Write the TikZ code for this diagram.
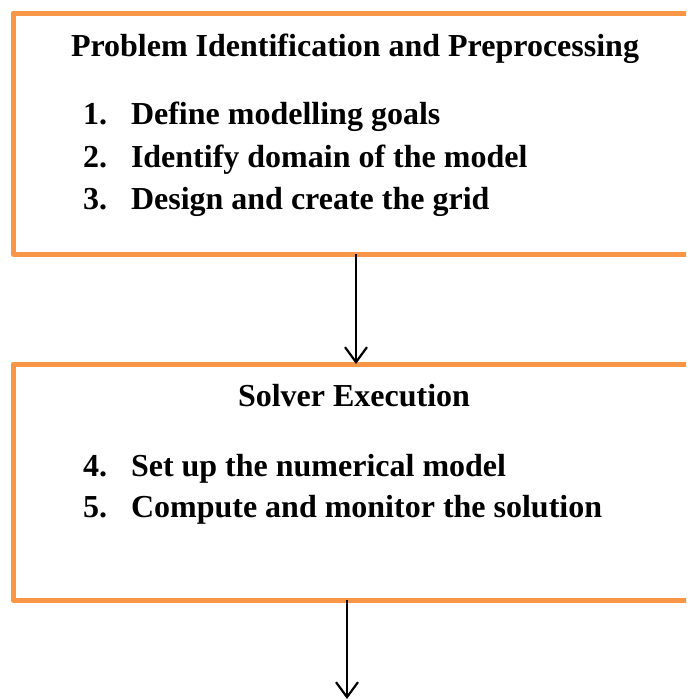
\documentclass[tikz,border=0pt]{standalone}
\usepackage{fontspec}
\setmainfont{Liberation Serif}
\usetikzlibrary{arrows.meta}
\definecolor{boxorange}{HTML}{F79646}
\tikzset{
  stagebox/.style={draw=boxorange, line width=5pt, line join=round, rectangle, inner sep=0pt, outer sep=0pt, fill=none},
  txt/.style={inner sep=0pt, outer sep=0pt, font=\fontsize{32}{38}\selectfont\bfseries},
  arr/.style={line width=2.2pt, -{Straight Barb[length=15pt,width=22pt,line width=2.2pt]}}
}
\begin{document}
\begin{tikzpicture}[x=1pt,y=-1pt]
\useasboundingbox (0,0) rectangle (686,699);
\clip (0,0) rectangle (686,699);
\node[stagebox, minimum width=717pt, minimum height=241pt] (box1) at (371.5,133.5) {};
\node[stagebox, minimum width=717pt, minimum height=236pt] (box2) at (371.5,482) {};
\node[txt, anchor=base] (t1) at (355,56) {Problem Identification and Preprocessing};
\node[txt, anchor=base west] (n1) at (83,124.5) {1.};
\node[txt, anchor=base west] (i1) at (131,124.5) {Define modelling goals};
\node[txt, anchor=base west] (n2) at (83,167) {2.};
\node[txt, anchor=base west] (i2) at (131,167) {Identify domain of the model};
\node[txt, anchor=base west] (n3) at (83,209.5) {3.};
\node[txt, anchor=base west] (i3) at (131,209.5) {Design and create the grid};
\node[txt, anchor=base] (t2) at (354,406.5) {Solver Execution};
\node[txt, anchor=base west] (n4) at (83,476) {4.};
\node[txt, anchor=base west] (i4) at (131,476) {Set up the numerical model};
\node[txt, anchor=base west] (n5) at (83,517.5) {5.};
\node[txt, anchor=base west] (i5) at (131,517.5) {Compute and monitor the solution};
\coordinate (a1x) at (356,0);
\coordinate (end) at (347,699);
\draw[arr] (box1.south -| a1x) -- (box2.north -| a1x);
\draw[arr] (box2.south -| end) -- (end);
\end{tikzpicture}
\end{document}
